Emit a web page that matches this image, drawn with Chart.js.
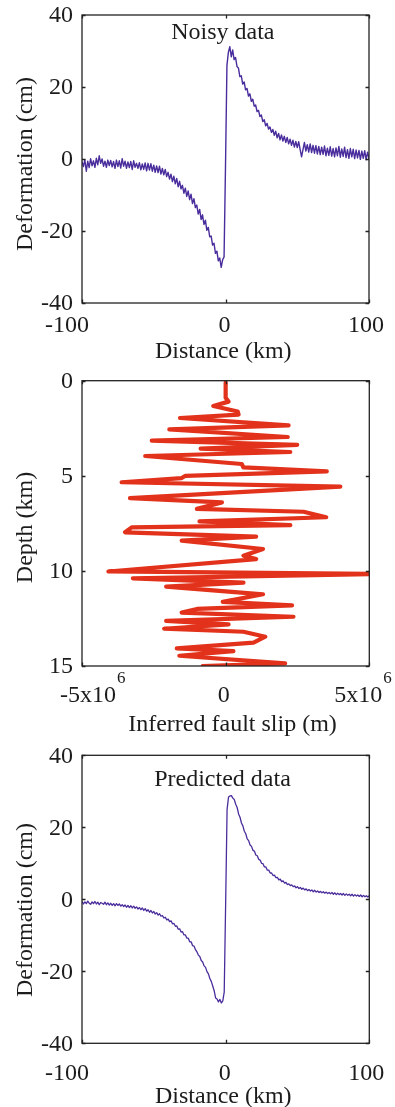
<!DOCTYPE html>
<html>
<head>
<meta charset="utf-8">
<title>Fault slip inversion</title>
<script src="https://cdn.jsdelivr.net/npm/chart.js@4.4.1/dist/chart.umd.min.js"></script>
<style>
  html, body { margin: 0; padding: 0; background: #fff; }
  body { width: 395px; height: 1107px; position: relative; overflow: hidden; }
  canvas { position: absolute; left: 0; }
</style>
</head>
<body>
<canvas id="noisyChart" width="395" height="370" style="top:0"></canvas>
<canvas id="slipChart" width="395" height="370" style="top:370px"></canvas>
<canvas id="predictedChart" width="395" height="367" style="top:740px"></canvas>
<script>
'use strict';

// surface deformation along the profile, one sample per km from -100 to 100
const DISTANCE_START_KM = -100;

const noisyCm = [
  -0.8, -2.1, -0.2, -3.4, -0.6, -2.4, 0.1, -1.9, -0.5, -2.3,
  0.2, -1.6, 0.9, -1.2, 0.0, -2.0, -0.6, -2.3, -0.3, -1.8,
  -0.4, -2.2, -0.7, -2.6, -0.3, -2.1, -0.5, -2.5, 0.1, -2.0,
  -0.6, -2.6, -0.8, -2.4, -0.7, -2.9, -0.5, -2.3, -1.2, -2.6,
  -1.0, -3.0, -1.4, -2.9, -1.1, -3.3, -1.2, -3.1, -1.3, -3.4,
  -1.7, -3.7, -1.9, -3.8, -2.0, -4.2, -2.6, -4.4, -2.9, -4.9,
  -3.7, -5.6, -4.2, -6.3, -4.8, -6.9, -5.4, -7.7, -6.2, -8.3,
  -7.3, -9.5, -8.1, -10.4, -8.9, -11.3, -9.8, -12.4, -11.0, -13.5,
  -12.8, -15.3, -14.0, -16.8, -15.5, -18.2, -17.0, -19.8, -19.0, -21.6,
  -21.4, -23.9, -23.4, -26.2, -25.6, -28.3, -27.5, -30.1, -28.0, -27.2,
  -2.0,
  26.0, 29.6, 31.2, 28.4, 30.3, 27.6, 28.2, 25.7, 25.3, 22.9,
  23.1, 20.8, 21.4, 19.2, 19.6, 17.5, 18.1, 16.0, 16.6, 14.7,
  15.0, 13.2, 13.5, 11.8, 12.2, 10.4, 10.9, 9.2, 9.9, 8.3,
  8.9, 7.4, 8.2, 6.6, 7.7, 5.9, 7.1, 5.3, 6.7, 5.0,
  6.3, 4.6, 6.0, 4.2, 5.5, 3.8, 5.2, 3.3, 4.9, 3.2,
  4.8, 2.7, 0.6, 2.6, 4.6, 2.2, 4.0, 1.9, 4.2, 1.8,
  3.8, 1.6, 3.7, 1.4, 3.5, 1.2, 3.3, 1.3, 3.6, 0.9,
  3.0, 1.0, 3.4, 0.8, 2.9, 0.6, 3.1, 0.9, 3.5, 0.5,
  2.8, 0.7, 3.3, 0.4, 2.6, 0.2, 2.9, 0.6, 2.7, 0.1,
  2.5, 0.3, 2.4, -0.1, 2.2, 0.2, 2.3, -0.2, 1.9, 0.1
];

const predictedCm = [
  -0.6, -1.3, -0.7, -1.2, -0.5, -1.1, -1.4, -0.7, -1.2, -0.6,
  -1.3, -0.8, -1.5, -0.9, -1.1, -1.4, -0.8, -1.5, -1.0, -1.6,
  -1.1, -1.7, -1.2, -1.8, -1.2, -1.7, -1.3, -1.9, -1.5, -2.0,
  -1.6, -2.2, -1.7, -2.3, -1.8, -2.4, -1.9, -2.5, -2.1, -2.7,
  -2.3, -2.9, -2.4, -3.1, -2.6, -3.3, -2.9, -3.6, -3.1, -3.8,
  -3.4, -4.1, -3.7, -4.4, -4.0, -4.7, -4.5, -5.2, -5.0, -5.7,
  -5.5, -6.2, -6.0, -6.8, -6.7, -7.5, -7.4, -8.3, -8.2, -9.1,
  -9.0, -9.9, -9.9, -10.8, -10.8, -11.8, -11.8, -12.9, -13.0, -14.0,
  -14.6, -15.5, -15.9, -17.0, -17.4, -18.5, -18.9, -20.1, -20.7, -22.0,
  -22.8, -24.1, -25.4, -27.4, -27.7, -28.5, -27.8, -28.8, -28.2, -25.8,
  -1.0,
  25.0, 28.4, 28.7, 28.8, 28.1, 27.7, 26.4, 25.5, 23.7, 22.8,
  21.2, 20.4, 18.9, 18.2, 16.8, 16.3, 15.1, 14.7, 13.6, 13.4,
  12.3, 12.1, 11.1, 10.9, 10.0, 9.9, 9.0, 9.0, 8.1, 8.1,
  7.3, 7.3, 6.6, 6.7, 6.0, 6.1, 5.4, 5.6, 4.9, 5.1,
  4.5, 4.7, 4.1, 4.3, 3.8, 4.0, 3.5, 3.7, 3.2, 3.5,
  3.0, 3.3, 2.8, 3.1, 2.6, 2.9, 2.4, 2.7, 2.3, 2.6,
  2.1, 2.5, 2.0, 2.3, 1.9, 2.2, 1.8, 2.1, 1.7, 2.0,
  1.6, 1.9, 1.5, 1.9, 1.4, 1.8, 1.3, 1.7, 1.3, 1.6,
  1.2, 1.6, 1.1, 1.5, 1.1, 1.4, 1.0, 1.4, 0.9, 1.3,
  0.9, 1.2, 0.8, 1.2, 0.7, 1.1, 0.7, 1.0, 0.6, 1.0
];

// inverted slip profile: turning points of the curve, top to bottom
const slipDepthKm = [
  0.1, 0.9, 1.1, 1.33, 1.62, 1.78, 1.96, 2.35, 2.56, 2.96,
  3.15, 3.37, 3.57, 3.75, 3.96, 4.38, 4.56, 4.77, 5.0, 5.12,
  5.34, 5.57, 6.17, 6.4, 6.74, 6.89, 7.18, 7.4, 7.59, 7.71,
  7.97, 8.2, 8.41, 8.85, 9.2, 9.38, 10.03, 10.16, 10.39, 10.62,
  10.83, 11.23, 11.63, 11.81, 12.0, 12.19, 12.41, 12.63, 12.81, 13.04,
  13.2, 13.46, 13.77, 14.07, 14.22, 14.46, 14.86, 15.0
];

const slipM = [
  0, 0, 0.1e6, -0.43e6, 0.42e6, 0.45e6, -1.59e6, 2.19e6, -1.96e6, 2.16e6,
  -2.57e6, 2.49e6, -0.87e6, 2.25e6, -2.8e6, 0.56e6, 0.62e6, 3.52e6, -1.4e6, -1.53e6,
  -3.62e6, 3.99e6, -3.33e6, -0.13e6, -1.0e6, 2.71e6, 3.5e6, -0.91e6, 2.25e6, -3.27e6,
  -3.5e6, 1.06e6, -1.53e6, 1.3e6, 0.62e6, 1.06e6, -4.08e6, 5.6e6, -3.23e6, 0.62e6,
  -2.07e6, 1.3e6, -0.1e6, 2.31e6, -1.0e6, -1.53e6, 2.36e6, -2.07e6, 0.1e6, -2.14e6,
  0.62e6, 1.38e6, 0.97e6, -1.7e6, 0.27e6, -1.61e6, 2.07e6, -0.8e6
];

const deformTicks = [-40, -20, 0, 20, 40];
const distanceTicks = [-100, 0, 100];
const depthTicks = [0, 5, 10, 15];
const slipTicks = [-5e6, 0, 5e6];

const FONT_FAMILY = '"Liberation Serif", "Times New Roman", serif';
const INK = '#1c1c1c';
const BLUE = '#4a2d9c';
const RED = '#e2321b';
const TICK_LEN = 3.5;

function profilePoints(values) {
  return values.map((v, i) => ({ x: DISTANCE_START_KM + i, y: v }));
}

function slipPoints() {
  return slipM.map((v, i) => ({ x: v, y: slipDepthKm[i] }));
}

// slip ticks are written MATLAB style: 5x10 with a raised exponent
function slipLabel(v) {
  if (v === 0) {
    return { base: '0', sup: '' };
  }
  const exp = Math.floor(Math.log10(Math.abs(v)));
  return { base: `${v / Math.pow(10, exp)}x10`, sup: `${exp}` };
}

const matlabAxes = {
  id: 'matlab',
  afterDraw(chart, args, opts) {
    const { ctx, chartArea: a } = chart;
    const xs = chart.scales.x;
    const ys = chart.scales.y;

    ctx.save();
    ctx.strokeStyle = '#222';
    ctx.lineWidth = 1.3;
    ctx.strokeRect(a.left, a.top, a.right - a.left, a.bottom - a.top);

    // inward ticks on all four sides
    ctx.beginPath();
    for (const v of opts.xTicks) {
      const px = Math.round(xs.getPixelForValue(v)) + 0.5;
      ctx.moveTo(px, a.bottom);
      ctx.lineTo(px, a.bottom - TICK_LEN);
      ctx.moveTo(px, a.top);
      ctx.lineTo(px, a.top + TICK_LEN);
    }
    for (const v of opts.yTicks) {
      const py = Math.round(ys.getPixelForValue(v)) + 0.5;
      ctx.moveTo(a.left, py);
      ctx.lineTo(a.left + TICK_LEN, py);
      ctx.moveTo(a.right, py);
      ctx.lineTo(a.right - TICK_LEN, py);
    }
    ctx.stroke();

    ctx.fillStyle = INK;
    ctx.font = `24px ${FONT_FAMILY}`;

    // y tick labels
    ctx.textAlign = 'right';
    ctx.textBaseline = 'middle';
    for (const v of opts.yTicks) {
      ctx.fillText(String(v), a.left - 9, ys.getPixelForValue(v) + 1);
    }

    // x tick labels
    ctx.textBaseline = 'alphabetic';
    opts.xTicks.forEach((v, i) => {
      const cx = xs.getPixelForValue(v) + opts.xTickShift[i];
      if (opts.sciLabels) {
        const { base, sup } = slipLabel(v);
        ctx.font = `24px ${FONT_FAMILY}`;
        const wBase = ctx.measureText(base).width;
        ctx.font = `17px ${FONT_FAMILY}`;
        const wSup = sup ? ctx.measureText(sup).width + 1 : 0;
        const left = cx - (wBase + wSup) / 2;
        ctx.textAlign = 'left';
        ctx.font = `24px ${FONT_FAMILY}`;
        ctx.fillText(base, left, opts.xTickBaseline);
        if (sup) {
          ctx.font = `17px ${FONT_FAMILY}`;
          ctx.fillText(sup, left + wBase + 1, opts.supBaseline);
        }
      } else {
        ctx.textAlign = 'center';
        ctx.fillText(String(v), cx, opts.xTickBaseline);
      }
    });

    // axis titles
    ctx.font = `24px ${FONT_FAMILY}`;
    ctx.textAlign = 'center';
    ctx.fillText(opts.xTitle, opts.xTitleCenter, opts.xTitleBaseline);

    ctx.save();
    ctx.translate(opts.yTitleX, opts.yTitleCenter);
    ctx.rotate(-Math.PI / 2);
    ctx.fillText(opts.yTitle, 0, 0);
    ctx.restore();

    if (opts.label) {
      ctx.fillText(opts.label, opts.labelCenter, opts.labelBaseline);
    }
    ctx.restore();
  }
};

function lineDataset(points, color, width) {
  return {
    data: points,
    showLine: true,
    borderColor: color,
    backgroundColor: color,
    borderWidth: width,
    pointRadius: 0,
    pointHoverRadius: 0,
    tension: 0,
    borderJoinStyle: 'round',
    borderCapStyle: 'round',
    clip: 0
  };
}

function makeChart(id, dataset, scales, padding, axes) {
  return new Chart(document.getElementById(id), {
    type: 'scatter',
    data: { datasets: [dataset] },
    options: {
      responsive: false,
      animation: false,
      layout: { padding },
      scales,
      plugins: {
        legend: { display: false },
        tooltip: { enabled: false },
        matlab: axes
      }
    },
    plugins: [matlabAxes]
  });
}

const profileScales = {
  x: { type: 'linear', min: -100, max: 100, display: false },
  y: { type: 'linear', min: -40, max: 40, display: false }
};

makeChart(
  'noisyChart',
  lineDataset(profilePoints(noisyCm), BLUE, 1.4),
  profileScales,
  { left: 82, right: 26, top: 15, bottom: 67 },
  {
    xTicks: distanceTicks,
    yTicks: deformTicks,
    xTickShift: [-15, -1, -3],
    xTickBaseline: 331.5,
    xTitle: 'Distance (km)',
    xTitleCenter: 223.3,
    xTitleBaseline: 358,
    yTitle: 'Deformation (cm)',
    yTitleX: 32,
    yTitleCenter: 164,
    label: 'Noisy data',
    labelCenter: 222.8,
    labelBaseline: 39.3
  }
);

makeChart(
  'slipChart',
  lineDataset(slipPoints(), RED, 4.2),
  {
    x: { type: 'linear', min: -5e6, max: 5e6, display: false },
    y: { type: 'linear', min: 0, max: 15, reverse: true, display: false }
  },
  { left: 82, right: 25.7, top: 10.7, bottom: 74 },
  {
    xTicks: slipTicks,
    yTicks: depthTicks,
    sciLabels: true,
    xTickShift: [10.7, -2, -6.2],
    xTickBaseline: 331.7,
    supBaseline: 313.3,
    xTitle: 'Inferred fault slip (m)',
    xTitleCenter: 232.5,
    xTitleBaseline: 361,
    yTitle: 'Depth (km)',
    yTitleX: 32,
    yTitleCenter: 157.5
  }
);

makeChart(
  'predictedChart',
  lineDataset(profilePoints(predictedCm), BLUE, 1.3),
  profileScales,
  { left: 82, right: 25.7, top: 15.3, bottom: 63.7 },
  {
    xTicks: distanceTicks,
    yTicks: deformTicks,
    xTickShift: [-15, -1, -3],
    xTickBaseline: 340,
    xTitle: 'Distance (km)',
    xTitleCenter: 223.3,
    xTitleBaseline: 363.3,
    yTitle: 'Deformation (cm)',
    yTitleX: 32,
    yTitleCenter: 170,
    label: 'Predicted data',
    labelCenter: 222.5,
    labelBaseline: 46
  }
);
</script>
</body>
</html>
